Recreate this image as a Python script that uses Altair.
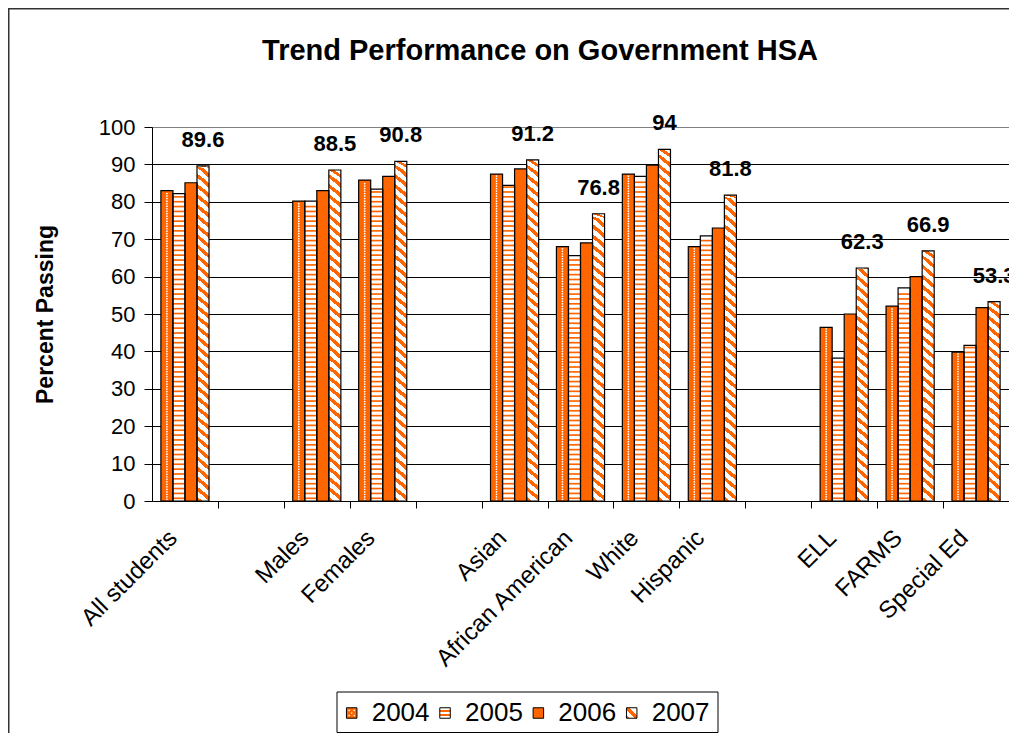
import altair as alt
import pandas as pd

# ---------------- data ----------------
categories = ["All students", " ", "Males", "Females", "  ", "Asian",
              "African American", "White", "Hispanic", "   ", "ELL", "FARMS", "Special Ed"]
groups = ["All students", "Males", "Females", "Asian", "African American",
          "White", "Hispanic", "ELL", "FARMS", "Special Ed"]
years = ["2004", "2005", "2006", "2007"]
pass_2004 = [83.0, 80.2, 85.8, 87.4, 68.0, 87.4, 68.0, 46.4, 52.1, 39.8]
pass_2005 = [82.2, 80.2, 83.4, 84.4, 65.6, 86.8, 70.9, 38.2, 57.0, 41.6]
pass_2006 = [85.1, 83.0, 86.8, 88.8, 69.0, 89.8, 73.0, 50.0, 60.0, 51.7]
pass_2007 = [89.6, 88.5, 90.8, 91.2, 76.8, 94.0, 81.8, 62.3, 66.9, 53.3]
y_ticks = [0, 10, 20, 30, 40, 50, 60, 70, 80, 90, 100]

by_year = {"2004": pass_2004, "2005": pass_2005, "2006": pass_2006, "2007": pass_2007}
df = pd.DataFrame([{"group": g, "year": y, "value": v}
                   for y in years for g, v in zip(groups, by_year[y])])
legend_df = pd.DataFrame({"yr": [int(y) for y in years], "label": years})
one = pd.DataFrame({"d": [0]})

# ---------------- style ----------------
ORANGE = "#FF6600"
FONT = "Liberation Sans"
W, H = 857, 374
PAD_L, PAD_T = 144, 119
STEP = W / len(categories)

DIAG = {"gradient": "linear", "x1": 0, "y1": 1, "x2": 1, "y2": 0,
        "stops": [{"offset": 0.0, "color": ORANGE}, {"offset": 0.22, "color": ORANGE},
                  {"offset": 0.22, "color": "white"}, {"offset": 0.5, "color": "white"},
                  {"offset": 0.5, "color": ORANGE}, {"offset": 0.72, "color": ORANGE},
                  {"offset": 0.72, "color": "white"}, {"offset": 1.0, "color": "white"}]}
HSTRIPE_SW = {"gradient": "linear", "x1": 0, "y1": 0, "x2": 0, "y2": 1,
              "stops": [{"offset": 0.0, "color": "white"}, {"offset": 0.25, "color": "white"},
                        {"offset": 0.25, "color": ORANGE}, {"offset": 0.42, "color": ORANGE},
                        {"offset": 0.42, "color": "white"}, {"offset": 0.6, "color": "white"},
                        {"offset": 0.6, "color": ORANGE}, {"offset": 0.77, "color": ORANGE},
                        {"offset": 0.77, "color": "white"}, {"offset": 1.0, "color": "white"}]}
DIAG_SW = {"gradient": "linear", "x1": 0, "y1": 1, "x2": 1, "y2": 0,
           "stops": [{"offset": 0.0, "color": ORANGE}, {"offset": 0.14, "color": ORANGE},
                     {"offset": 0.14, "color": "white"}, {"offset": 0.38, "color": "white"},
                     {"offset": 0.38, "color": ORANGE}, {"offset": 0.62, "color": ORANGE},
                     {"offset": 0.62, "color": "white"}, {"offset": 1.0, "color": "white"}]}

x_scale = alt.Scale(domain=categories, paddingInner=0.27, paddingOuter=0.135)
x_axis = alt.Axis(title=None, labelAngle=315, labelAlign="right", labelBaseline="middle",
                  labelFont=FONT, labelFontSize=24, labelColor="black", labelPadding=26,
                  labelOffset=-(STEP / 2 + 12), tickOffset=STEP / 2, tickSize=7,
                  tickColor="black", domainColor="black", grid=False, labelLimit=400)
xo_scale = alt.Scale(domain=years, paddingInner=0, paddingOuter=0)
y_scale = alt.Scale(domain=[0, 100], nice=False, zero=True)
y_axis = alt.Axis(title="Percent Passing", values=y_ticks, labelFont=FONT, labelFontSize=22,
                  labelColor="black", labelPadding=9, tickSize=8, tickColor="black",
                  domainColor="black", grid=True,
                  gridColor={"condition": {"test": "datum.value === 100", "value": "#808080"},
                             "value": "black"},
                  gridWidth=1, titleFont=FONT, titleFontSize=23, titleFontWeight="bold",
                  titleColor="black", titleX=-107, titleBaseline="middle")


def enc():
    return dict(x=alt.X("group:N", scale=x_scale, axis=x_axis),
                xOffset=alt.XOffset("year:N", scale=xo_scale))


def yenc(field):
    return alt.Y(f"{field}:Q", scale=y_scale, axis=y_axis)


base = alt.Chart(df)

bars = base.mark_bar(strokeWidth=0).encode(
    **enc(), y=yenc("value"),
    fill=alt.Fill("year:N", scale=alt.Scale(domain=years, range=[ORANGE, "white", ORANGE, "white"]),
                  legend=None))

# 2004: white dot texture
dots_src = (base.transform_filter(alt.datum.year == "2004")
            .transform_calculate(k="sequence(0, floor((datum.value - 0.45) / 0.67) + 1)")
            .transform_flatten(["k"])
            .transform_calculate(dot_y="0.45 + datum.k * 0.67", col="datum.k % 2")
            .transform_filter("datum.dot_y < datum.value - 0.3"))
dots_a = dots_src.transform_filter("datum.col == 0").mark_circle(
    size=3, color="white", opacity=1, xOffset=-2.6).encode(**enc(), y=yenc("dot_y"))
dots_b = dots_src.transform_filter("datum.col == 1").mark_circle(
    size=3, color="white", opacity=1, xOffset=2.6).encode(**enc(), y=yenc("dot_y"))

# 2005: horizontal stripes
stripes = (base.transform_filter(alt.datum.year == "2005")
           .transform_calculate(k="sequence(0, ceil(datum.value / 1.3))")
           .transform_flatten(["k"])
           .transform_calculate(s0="0.5 + datum.k * 1.3", s1="0.95 + datum.k * 1.3")
           .transform_filter("datum.s1 < datum.value - 0.2")
           .mark_bar(color=ORANGE, strokeWidth=0)
           .encode(**enc(), y=yenc("s0"), y2=alt.Y2("s1:Q")))

# 2007: diagonal stripes
SEG = 2.7
diag = (base.transform_filter(alt.datum.year == "2007")
        .transform_calculate(k=f"sequence(0, ceil(datum.value / {SEG}))")
        .transform_flatten(["k"])
        .transform_calculate(d0=f"datum.k * {SEG}",
                             d1=f"min(datum.k * {SEG} + {SEG} + 0.12, datum.value)")
        .mark_bar(fill=DIAG, strokeWidth=0)
        .encode(**enc(), y=yenc("d0"), y2=alt.Y2("d1:Q")))

outline = base.mark_bar(fill="transparent", stroke="black", strokeWidth=1.2).encode(
    **enc(), y=yenc("value"))

labels = base.transform_filter(alt.datum.year == "2007").mark_text(
    font=FONT, fontSize=22, fontWeight="bold", dy=-26, baseline="middle", color="black"
).encode(**enc(), y=yenc("value"), text=alt.Text("value:Q", format="~g"))

main = alt.layer(bars, dots_a, dots_b, stripes, diag, outline, labels)

# ---------------- legend ----------------
lx = alt.X("yr:Q", scale=alt.Scale(domain=[2004, 2007], range=[199.7, 479.7]), axis=None)
LEG_Y = 586
sw_fill = {"2004": ORANGE, "2005": HSTRIPE_SW, "2006": ORANGE, "2007": DIAG_SW}
swatches = [alt.Chart(legend_df).transform_filter(alt.datum.label == y).mark_square(
    size=110, fill=sw_fill[y], stroke="black", strokeWidth=1, opacity=1).encode(
    x=lx, y=alt.value(LEG_Y)) for y in years]
sw_dots = [alt.Chart(legend_df).transform_filter(alt.datum.label == "2004").mark_circle(
    size=2.5, color="white", opacity=1, xOffset=ox, yOffset=oy).encode(x=lx, y=alt.value(LEG_Y))
    for ox, oy in [(-2.6, -2.6), (2.6, -2.6), (0, 0), (-2.6, 2.6), (2.6, 2.6)]]
leg_text = alt.Chart(legend_df).mark_text(
    font=FONT, fontSize=26, align="left", baseline="middle", dx=20, color="black"
).encode(x=lx, y=alt.value(LEG_Y), text="label:N")
leg_box = alt.Chart(one).mark_rect(fill="transparent", stroke="black", strokeWidth=1).encode(
    x=alt.value(185), x2=alt.value(566), y=alt.value(565), y2=alt.value(605.5))
legend = alt.layer(*swatches, *sw_dots, leg_text, leg_box)

frame = alt.Chart(one).mark_rect(fill="transparent", stroke="#333333", strokeWidth=1.5).encode(
    x=alt.value(-PAD_L + 0.75), x2=alt.value(900), y=alt.value(-PAD_T + 0.75), y2=alt.value(700))

title = alt.TitleParams("Trend Performance on Government HSA", font=FONT, fontSize=29,
                        fontWeight="bold", color="black", anchor="middle", frame="group",
                        dx=-40.5, offset=0, dy=81, baseline="alphabetic")

chart = (alt.layer(main, legend, frame)
         .resolve_scale(x="independent")
         .properties(width=W, height=H, title=title,
                     autosize=alt.AutoSizeParams(type="none"),
                     padding={"left": PAD_L, "top": PAD_T, "right": 0, "bottom": 725 - PAD_T - H})
         .configure(font=FONT)
         .configure_view(stroke="#808080", strokeWidth=1))

chart.save("out.html", embed_options={"renderer": "svg", "actions": False})
